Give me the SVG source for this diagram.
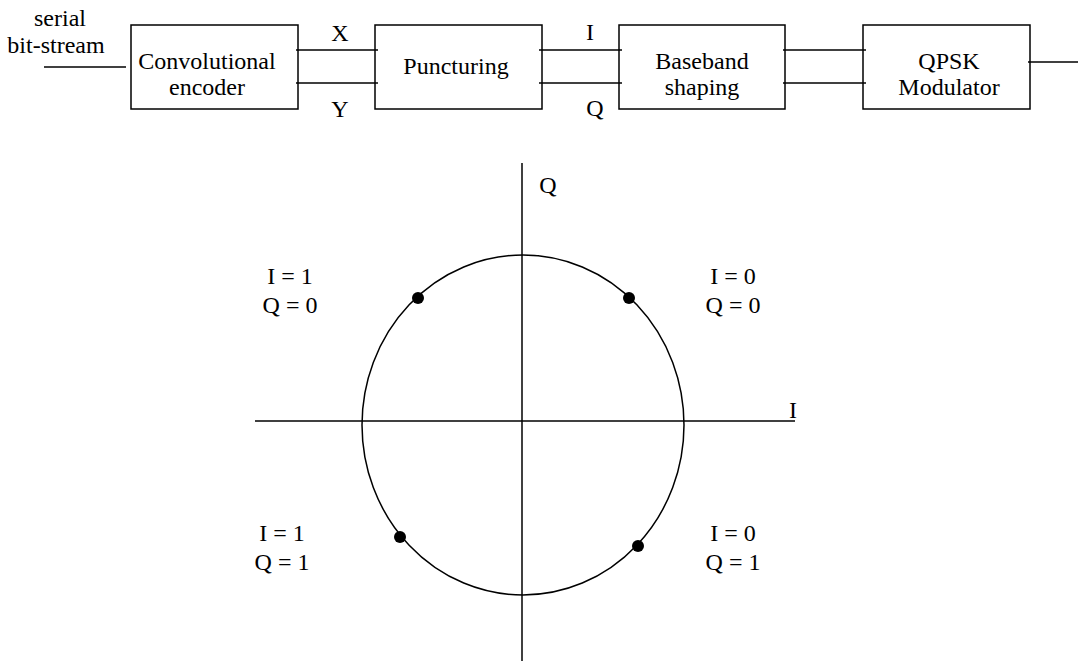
<svg xmlns="http://www.w3.org/2000/svg" width="1078" height="661" viewBox="0 0 1078 661">
<style>
.box{fill:none;stroke:#000;stroke-width:1.5}
.ln{stroke:#000;stroke-width:1.5;fill:none}
.t{font-family:'Liberation Serif','Times New Roman',serif;font-size:24px;fill:#000;text-anchor:middle}
.dot{fill:#000}
</style>
<rect width="1078" height="661" fill="#fff"/>
<g id="connectors">
<line class="ln" x1="44" y1="67" x2="126" y2="67"/>
<line class="ln" x1="296" y1="50" x2="378" y2="50"/>
<line class="ln" x1="296" y1="83" x2="378" y2="83"/>
<line class="ln" x1="539" y1="50" x2="622" y2="50"/>
<line class="ln" x1="539" y1="83" x2="622" y2="83"/>
<line class="ln" x1="783" y1="50" x2="866" y2="50"/>
<line class="ln" x1="783" y1="83" x2="866" y2="83"/>
<line class="ln" x1="1028" y1="62" x2="1078" y2="62"/>
<text class="t" x="60" y="26">serial</text>
<text class="t" x="56" y="53">bit-stream</text>
<text class="t" x="340" y="41">X</text>
<text class="t" x="340" y="117">Y</text>
<text class="t" x="590" y="40">I</text>
<text class="t" x="595" y="116">Q</text>
</g>
<g id="encoder">
<rect class="box" x="131" y="25" width="167" height="84"/>
<text class="t" x="207" y="69">Convolutional</text>
<text class="t" x="207" y="95">encoder</text>
</g>
<g id="puncturing">
<rect class="box" x="375" y="25" width="167" height="84"/>
<text class="t" x="456" y="74">Puncturing</text>
</g>
<g id="shaping">
<rect class="box" x="619" y="25" width="166" height="84"/>
<text class="t" x="702" y="69">Baseband</text>
<text class="t" x="702" y="95">shaping</text>
</g>
<g id="modulator">
<rect class="box" x="863" y="25" width="167" height="84"/>
<text class="t" x="949" y="69">QPSK</text>
<text class="t" x="949" y="95">Modulator</text>
</g>
<g id="constellation">
<line class="ln" x1="255" y1="421" x2="795" y2="421"/>
<line class="ln" x1="522" y1="163" x2="522" y2="661"/>
<ellipse class="ln" cx="523" cy="425" rx="161" ry="170"/>
<circle class="dot" cx="418" cy="298" r="6"/>
<circle class="dot" cx="629" cy="298" r="6"/>
<circle class="dot" cx="400" cy="537" r="6"/>
<circle class="dot" cx="638" cy="546" r="6"/>
<text class="t" x="548" y="193">Q</text>
<text class="t" x="793" y="418">I</text>
<text class="t" x="290" y="284">I = 1</text>
<text class="t" x="290" y="313">Q = 0</text>
<text class="t" x="733" y="284">I = 0</text>
<text class="t" x="733" y="313">Q = 0</text>
<text class="t" x="282" y="541">I = 1</text>
<text class="t" x="282" y="570">Q = 1</text>
<text class="t" x="733" y="541">I = 0</text>
<text class="t" x="733" y="570">Q = 1</text>
</g>
</svg>
